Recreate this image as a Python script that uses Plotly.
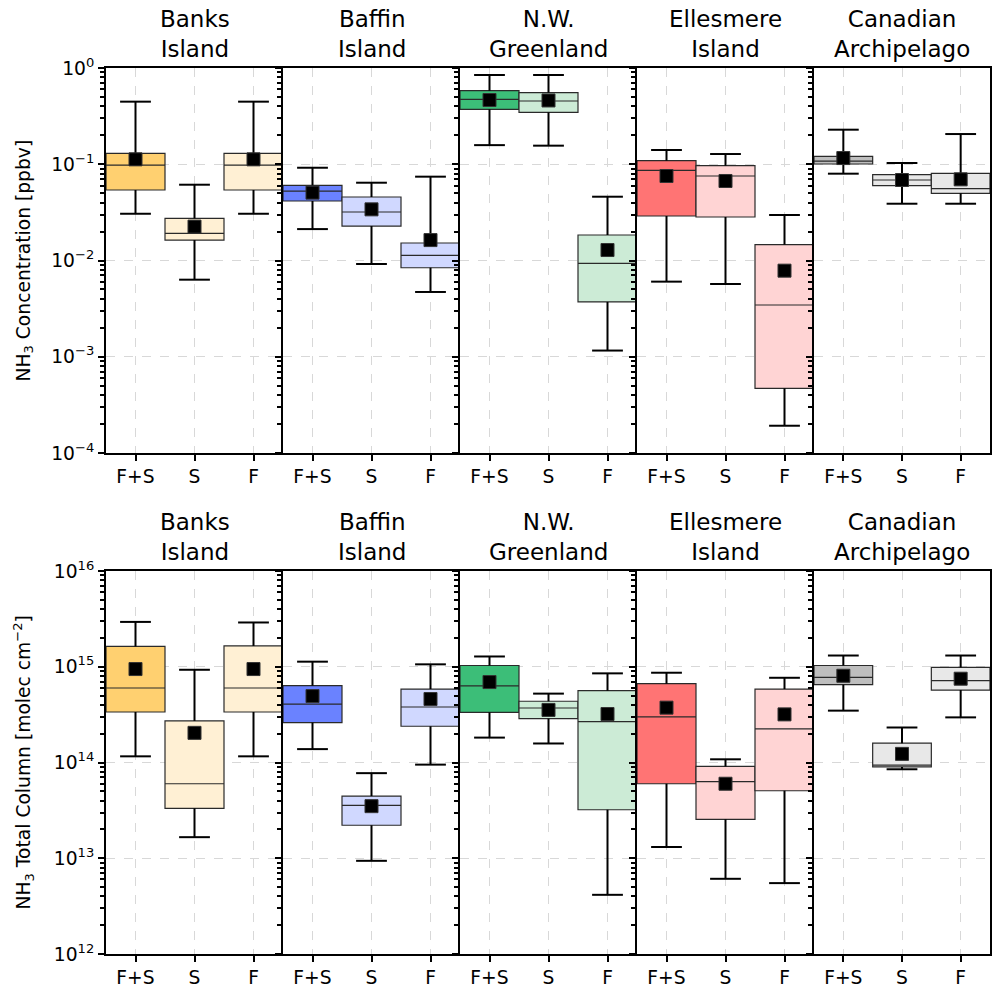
import plotly.graph_objects as go

# ---------------- data ----------------
regions = ["Banks<br>Island", "Baffin<br>Island", "N.W.<br>Greenland",
           "Ellesmere<br>Island", "Canadian<br>Archipelago"]
seasons = ["F+S", "S", "F"]
season_pos = [1, 2, 3]

# NH3 concentration [ppbv]  (per region: F+S, S, F)
conc_upper = [[0.447, 0.0613, 0.447], [0.092, 0.0643, 0.0743], [0.846, 0.846, 0.046],
              [0.1406, 0.1277, 0.0297], [0.2286, 0.103, 0.206]]
conc_q3 = [[0.130, 0.0274, 0.130], [0.0604, 0.0457, 0.0152], [0.581, 0.554, 0.0184],
           [0.1089, 0.0966, 0.0146], [0.1209, 0.078, 0.0805]]
conc_med = [[0.098, 0.0191, 0.098], [0.0527, 0.0319, 0.01133], [0.473, 0.454, 0.00935],
            [0.0865, 0.0755, 0.00345], [0.108, 0.0686, 0.0557]]
conc_q1 = [[0.054, 0.0163, 0.054], [0.0415, 0.0228, 0.00841], [0.372, 0.346, 0.00371],
           [0.029, 0.0283, 0.00047], [0.1006, 0.0599, 0.0499]]
conc_lower = [[0.0306, 0.00632, 0.0306], [0.0212, 0.0092, 0.00471], [0.158, 0.156, 0.00116],
              [0.00603, 0.0057, 0.000192], [0.0798, 0.0389, 0.0389]]
conc_mean = [[0.1125, 0.0225, 0.1125], [0.0507, 0.034, 0.0163], [0.465, 0.46, 0.01285],
             [0.0755, 0.067, 0.00784], [0.116, 0.0686, 0.0697]]

# NH3 total column [molec cm-2]
col_upper = [[2.94e15, 9.3e14, 2.9e15], [1.13e15, 7.74e13, 1.06e15], [1.28e15, 5.24e14, 8.53e14],
             [8.66e14, 1.08e14, 7.67e14], [1.31e15, 2.32e14, 1.31e15]]
col_q3 = [[1.63e15, 2.72e14, 1.65e15], [6.34e14, 4.46e13, 5.85e14], [1.03e15, 4.36e14, 5.62e14],
          [6.65e14, 9.1e13, 5.85e14], [1.03e15, 1.59e14, 9.84e14]]
col_med = [[6.0e14, 6.0e13, 6.0e14], [4.08e14, 3.57e13, 3.80e14], [6.3e14, 3.71e14, 2.67e14],
           [2.99e14, 6.3e13, 2.24e14], [7.74e14, 9.37e13, 7.15e14]]
col_q1 = [[3.37e14, 3.32e13, 3.37e14], [2.61e14, 2.21e13, 2.39e14], [3.34e14, 2.87e14, 3.21e13],
          [6.0e13, 2.55e13, 5.07e13], [6.5e14, 9.0e13, 5.71e14]]
col_lower = [[1.16e14, 1.66e13, 1.16e14], [1.38e14, 9.4e12, 9.5e13], [1.82e14, 1.58e14, 4.15e12],
             [1.31e13, 6.1e12, 5.5e12], [3.48e14, 8.5e13, 2.96e14]]
col_mean = [[9.46e14, 2.04e14, 9.46e14], [4.94e14, 3.5e13, 4.6e14], [6.92e14, 3.54e14, 3.21e14],
            [3.74e14, 6.0e13, 3.18e14], [8.05e14, 1.23e14, 7.5e14]]

strong_colors = ["#FFD070", "#6A82FF", "#3CBE78", "#FF7474", "#BEBEBE"]
light_colors = ["#FFF0D4", "#D0D8FF", "#CCEBD6", "#FFD4D4", "#E8E8E8"]

conc_exps = [-4, -3, -2, -1, 0]
col_exps = [12, 13, 14, 15, 16]
conc_ticktext = ["10<sup>\u22124</sup>", "10<sup>\u22123</sup>", "10<sup>\u22122</sup>",
                 "10<sup>\u22121</sup>", "10<sup>0</sup>"]
col_ticktext = ["10<sup>12</sup>", "10<sup>13</sup>", "10<sup>14</sup>",
                "10<sup>15</sup>", "10<sup>16</sup>"]
ylabels = ["NH<sub>3</sub> Concentration [ppbv]",
           "NH<sub>3</sub> Total Column [molec cm<sup>\u22122</sup>]"]

# ---------------- layout geometry (pixels) ----------------
W, H = 992, 986
xedges = [106, 283, 460, 637, 814, 990]
rows_px = [(68, 453), (571, 954)]
FONT = "DejaVu Sans"

fig = go.Figure()
layout = dict(template="none", width=W, height=H, margin=dict(l=0, r=0, t=0, b=0, pad=0),
              paper_bgcolor="white", plot_bgcolor="white", showlegend=False,
              font=dict(family=FONT, color="black", size=18.7),
              boxmode="overlay")
annotations = []

datasets = [
    (conc_lower, conc_q1, conc_med, conc_q3, conc_upper, conc_mean, conc_exps, conc_ticktext),
    (col_lower, col_q1, col_med, col_q3, col_upper, col_mean, col_exps, col_ticktext),
]

for r, (lo, q1, md, q3, up, mn, exps, ttext) in enumerate(datasets):
    top, bot = rows_px[r]
    ydom = [1 - bot / H, 1 - top / H]
    minor_vals = [k * 10 ** e for e in exps[:-1] for k in range(2, 10)]
    major_vals = [10 ** e for e in exps]
    for i in range(5):
        k = r * 5 + i + 1
        xa = "x" if k == 1 else f"x{k}"
        ya = "y" if k == 1 else f"y{k}"
        xdom = [xedges[i] / W, xedges[i + 1] / W]
        for j in range(3):
            fill = strong_colors[i] if j == 0 else light_colors[i]
            fig.add_trace(go.Box(
                x=[season_pos[j]], q1=[q1[i][j]], median=[md[i][j]], q3=[q3[i][j]],
                lowerfence=[q1[i][j]], upperfence=[q3[i][j]],
                width=1, whiskerwidth=0, fillcolor=fill,
                line=dict(color="#2a2a2a", width=1.2), boxpoints=False,
                xaxis=xa, yaxis=ya, hoverinfo="skip"))
            # whiskers
            fig.add_trace(go.Scatter(
                x=[season_pos[j], season_pos[j], None, season_pos[j], season_pos[j]],
                y=[lo[i][j], q1[i][j], None, q3[i][j], up[i][j]],
                mode="lines", line=dict(color="black", width=2),
                xaxis=xa, yaxis=ya, hoverinfo="skip"))
            # caps
            fig.add_trace(go.Scatter(
                x=[season_pos[j], season_pos[j]], y=[lo[i][j], up[i][j]],
                mode="markers",
                marker=dict(symbol="line-ew", size=22, line=dict(color="black", width=2)),
                xaxis=xa, yaxis=ya, hoverinfo="skip"))
            # mean
            fig.add_trace(go.Scatter(
                x=[season_pos[j]], y=[mn[i][j]], mode="markers",
                marker=dict(symbol="square", size=13, color="black",
                            line=dict(color="#333333", width=1)),
                xaxis=xa, yaxis=ya, hoverinfo="skip"))

        xkey = "xaxis" if k == 1 else f"xaxis{k}"
        ykey = "yaxis" if k == 1 else f"yaxis{k}"
        layout[xkey] = dict(
            domain=xdom, anchor=ya, range=[0.5, 3.5], tickmode="array",
            tickvals=season_pos, ticktext=seasons, ticks="outside", ticklen=6,
            tickwidth=2, tickcolor="black", showline=True, mirror=True,
            linecolor="black", linewidth=2, showgrid=True, gridcolor="#d8d8d8",
            griddash="dash", gridwidth=1, zeroline=False, automargin=False,
            tickfont=dict(family=FONT, size=18.7, color="black"))
        layout[ykey] = dict(
            domain=ydom, anchor=xa, type="log", range=[exps[0], exps[-1]],
            tickmode="array", tickvals=major_vals, ticktext=ttext,
            showticklabels=(i == 0), ticks="outside", ticklen=6, tickwidth=2,
            tickcolor="black", showline=True, mirror=(i == 4), linecolor="black",
            linewidth=2, showgrid=True, gridcolor="#d8d8d8", griddash="dash",
            gridwidth=1, zeroline=False, automargin=False,
            minor=dict(tickmode="array", tickvals=minor_vals, ticks="outside",
                       ticklen=4, tickwidth=1.5, tickcolor="black", showgrid=False),
            tickfont=dict(family=FONT, size=18.7, color="black"))
        annotations.append(dict(
            text=regions[i], xref="paper", yref="paper",
            x=(xdom[0] + xdom[1]) / 2, y=ydom[1], xanchor="center", yanchor="bottom",
            yshift=4, showarrow=False, font=dict(family=FONT, size=23, color="black")))
    annotations.append(dict(
        text=ylabels[r], xref="paper", yref="paper", x=24 / W,
        y=1 - (top + bot) / 2 / H, xanchor="center", yanchor="middle",
        textangle=-90, showarrow=False, font=dict(family=FONT, size=18.7, color="black")))

layout["annotations"] = annotations
fig.update_layout(**layout)
fig.write_html("out.html", config={"displayModeBar": False},
               post_script="document.body.style.margin='0';document.body.style.overflow='hidden';")
